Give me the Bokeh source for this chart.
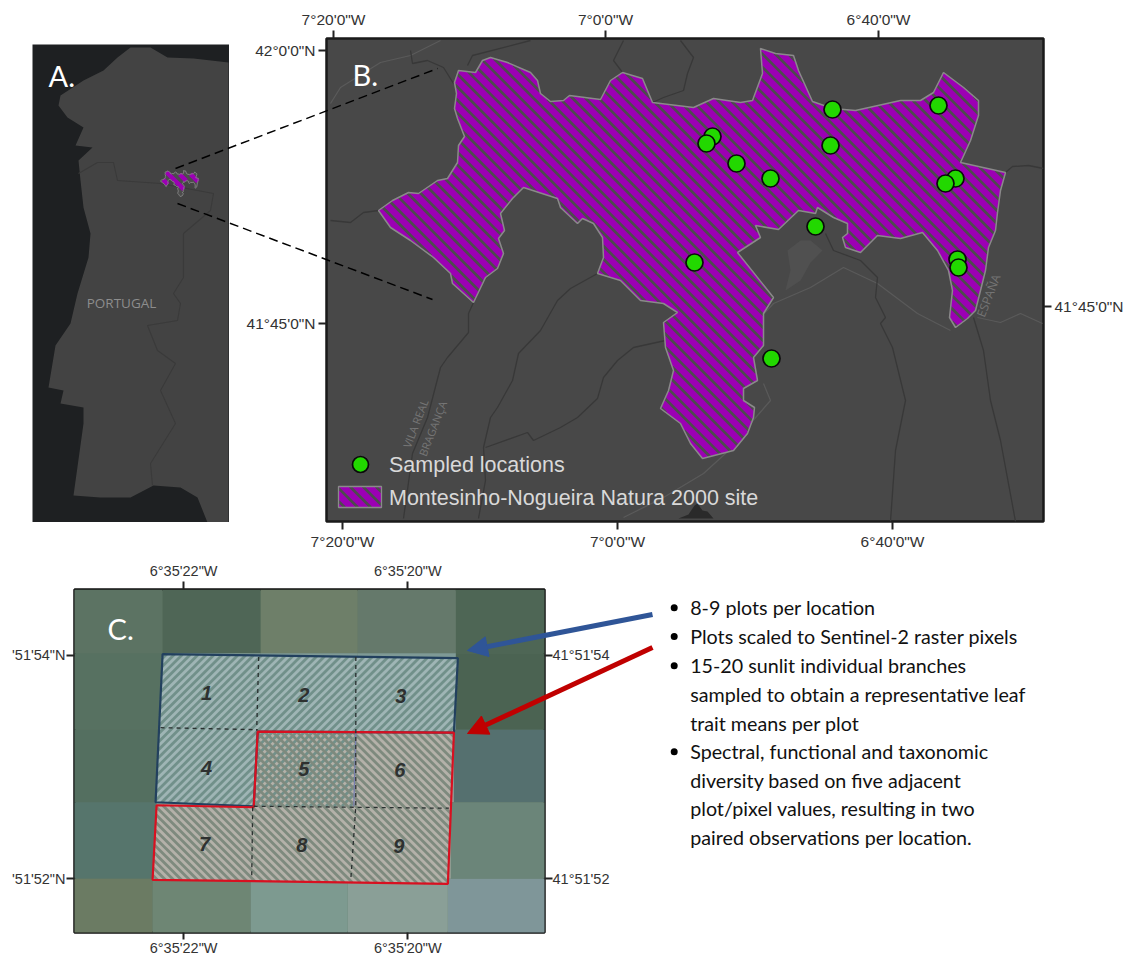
from bokeh.plotting import figure
from bokeh.models import (Range1d, LinearAxis, FixedTicker, Arrow, NormalHead, Legend, LegendItem)
from bokeh.core.properties import value
from bokeh.embed import file_html
from bokeh.resources import INLINE

# ---- map coordinates (projected map units) ----
site_x = [378,392,408,418,437,447,457,458,464,457,454,456,454,458,475,482,490,507,530,537,540,550,563,569,600,610,622,642,652,693,713,740,752,762,760,775,793,798,812,832,855,900,920,933,943,963,978,978,970,960,1005,1000,997,995,988,985,975,967,955,949,952,948,937,922,900,877,860,845,842,847,847,833,817,815,798,778,755,760,737,773,763,763,753,757,743,743,754,753,747,733,702,690,680,660,668,673,665,663,677,663,640,620,597,603,602,593,582,577,560,557,523,512,500,504,498,503,497,485,473,452,450,433,410,390]
site_y = [210,200,192,193,180,178,162,145,136,118,108,93,82,70,72,60,57,62,72,80,93,101,100,95,99,80,72,78,102,107,98,102,100,73,48,53,55,70,101,108,110,100,100,92,72,87,100,115,140,162,172,190,212,230,247,270,310,318,327,317,290,270,250,232,238,235,252,247,237,233,223,217,207,213,210,229,225,237,252,297,313,345,357,380,388,400,407,417,433,450,458,443,423,408,390,370,347,322,312,303,300,280,273,257,237,223,218,223,207,198,187,198,213,230,238,253,268,277,302,283,273,257,240,227]
loc_x = [832,938,712,706,830,736,770,955,945,815,694,957,958,771]
loc_y = [109,105,136,143,145,163,178,178,183,226,262,259,267,358]

dark_rivers_x = [[403,412,427,440,447,468,468,473],[478,485,483,490,497,512,518,540,557,570,597],[485,527,533,560,577,597,603,617,633,665],[330,350,363,378],[410,412,427,443,453],[467,472,530],[622,613,623],[680,693,687,683,663,652],[825,833,860,877,875,885,880,892,905,895,890],[1005,1012,1028,1043],[973,983,990,1000,1015]]
dark_rivers_y = [[518,453,417,367,357,332,313,302],[518,480,447,417,407,380,353,330,300,288,273],[447,432,440,427,417,398,377,360,347,340],[220,222,212,210],[50,63,60,67,83],[65,55,40],[72,60,40],[40,57,73,90,97,102],[233,250,260,277,297,317,323,347,400,450,521],[172,166,165,168],[317,350,400,440,521]]
light_rivers_x = [[330,340,380,410,440],[760,773,810,843,877,917,950],[977,1000,1020,1042],[747,703,663,623],[763,770,750]]
light_rivers_y = [[103,87,62,55,40],[317,303,287,267,283,313,330],[317,322,313,323],[433,473,497,517],[383,400,423]]
lake_x = [678,688,694,697,702,707,713]
lake_y = [518,514,505,503,510,511,518]
reservoir_x = [787,800,810,822,810,800,785,790]
reservoir_y = [250,240,240,250,262,280,290,270]

land_x = [228,193,167,150,130,117,103,83,60,58,67,83,75,92,78,80,83,90,88,77,70,55,48,63,60,83,83,73,100,130,153,180,197,207,228]
land_y = [62,58,57,47,47,57,70,80,95,105,117,127,145,147,160,180,207,233,257,293,323,345,387,390,403,407,423,495,497,497,485,487,497,522,522]
border_x = [78,97,113,117,160,197,213,210,183,183,173,180,177,147,157,175,160,175,150,152]
border_y = [173,162,162,180,183,190,193,210,233,277,293,303,320,325,350,363,390,423,463,485]
inset_x = [160 + (x - 378) * 0.0605 for x in site_x]
inset_y = [170 + (y - 48) * 0.0634 for y in site_y]
legend_box_x = [338, 381, 381, 338]
legend_box_y = [486, 486, 507, 507]
legend_point_x = [360]
legend_point_y = [464]

b_top_ticks = [333, 605, 878]
b_top_labels = ['7°20\'0"W', '7°0\'0"W', '6°40\'0"W']
b_bottom_ticks = [342, 617, 892]
b_left_ticks = [50, 323]
b_left_labels = ['42°0\'0"N', '41°45\'0"N']
b_right_ticks = [306]
b_right_labels = ['41°45\'0"N']

# panel C: raster cells, plots
cell_left = [[73,162,260,357,455],[73,162,260,357,455],[73,160,258,355,453],[73,156,253,350,450],[73,152,250,347,447]]
cell_right = [[162,260,357,455,544],[162,260,357,455,544],[160,258,355,453,544],[156,253,350,450,544],[152,250,347,447,544]]
cell_top = [589,653,730,803,880]
cell_bottom = [653,730,803,880,935]
cell_colors = [["#5c7363","#4f6656","#6e7f69","#65796b","#4e6655"],
               ["#577161","#7f9a96","#7f9a96","#7f9a96","#4b6352"],
               ["#546f60","#7f9a96","#9a9f98","#9a9f98","#55706f"],
               ["#56756c","#9aa39a","#9aa39a","#9aa39a","#6b8579"],
               ["#6b7b63","#6e8674","#7d9a90","#8a9f97","#7f9699"]]
blue_x = [162,457,453,355,353,253,155]
blue_y = [654,658,733,733,807,807,803]
blue_line_x = [155,162,457,453,257,253,155]
blue_line_y = [803,654,658,733,732,807,803]
red_x = [257,453,447,152,156,253]
red_y = [732,733,885,881,806,808]
grid_x = [[258,256],[252,251],[355,355,350],[160,257],[253,448]]
grid_y = [[657,731],[808,880],[657,807,881],[728,730],[807,809]]
plot_x = [206,303,400,206,303,399,204,301,398]
plot_y = [693,695,696,769,770,771,845,846,847]
plot_names = ["1","2","3","4","5","6","7","8","9"]
c_xticks = [183, 407]
c_xlabels = ['6°35\'22"W', '6°35\'20"W']
c_yticks = [655, 880]
c_left_labels = ['\'51\'54"N', '\'51\'52"N']
c_right_labels = ['41°51\'54', '41°51\'52']

notes = ["8-9 plots per location","Plots scaled to Sentinel-2 raster pixels","15-20 sunlit individual branches",
         "sampled to obtain a representative leaf","trait means per plot","Spectral, functional and taxonomic",
         "diversity based on five adjacent","plot/pixel values, resulting in two","paired observations per location."]
note_y = [607.3,636,665.3,694,722.7,751.3,780,808.3,836.7]
bullet_y = [607.3,636,665.3,751.3]

PURPLE = "#9c00b4"
STRIPE = "#4c4c4c"
GREEN = "#22d800"


def stripes(xs, ys, step, sign):
    """Diagonal hatch lines clipped to a polygon (Bokeh's hatch patterns do not survive the SVG backend)."""
    n = len(xs)
    u = [ys[i] - sign * xs[i] for i in range(n)]
    out_x, out_y = [], []
    c = int(min(u) // step) * step + step / 2 + 0.137
    while c < max(u):
        hits = []
        for i in range(n):
            j = (i + 1) % n
            if (u[i] > c) != (u[j] > c):
                t = (c - u[i]) / (u[j] - u[i])
                hits.append(xs[i] + t * (xs[j] - xs[i]))
        hits.sort()
        for a, b in zip(hits[0::2], hits[1::2]):
            out_x.append([a, b])
            out_y.append([c + sign * a, c + sign * b])
        c += step
    return out_x, out_y


def base(w, h, xr, yr, left, top, **kw):
    p = figure(width=w, height=h, x_range=Range1d(*xr), y_range=Range1d(*yr),
               output_backend="svg", toolbar_location=None, x_axis_type=None, y_axis_type=None, **kw)
    p.grid.visible = False
    p.styles = {"position": "absolute", "left": f"{left}px", "top": f"{top}px"}
    return p


def axis(p, side, ticks, labels, size, standoff=3, tick=8):
    a = LinearAxis(ticker=FixedTicker(ticks=ticks),
                   major_label_overrides={t: l for t, l in zip(ticks, labels)})
    a.major_tick_out = tick
    a.major_tick_in = 0
    a.minor_tick_line_color = None
    a.major_tick_line_width = 2
    a.major_tick_line_color = "#222222"
    a.axis_line_color = None
    a.major_label_standoff = standoff
    a.major_label_text_font = "Liberation Sans"
    a.major_label_text_font_size = size
    a.major_label_text_color = "#333333"
    p.add_layout(a, side)


# ---- Panel A ----
pA = base(197, 478, (32, 229), (522, 44), 32, 44, min_border=0)
pA.background_fill_color = "#1e2022"
pA.outline_line_color = None
pA.patch(land_x, land_y, fill_color="#434343", line_color=None)
pA.line(border_x, border_y, line_color="#3a3a3a", line_width=1.1)
pA.patch(inset_x, inset_y, fill_color=STRIPE, line_color=None)
sx, sy = stripes(inset_x, inset_y, 11, 1)
pA.multi_line(sx, sy, line_color=PURPLE, line_width=4.5)
pA.patch(inset_x, inset_y, fill_color=None, line_color="#8c8c8c", line_width=0.8)
pA.text([48], [75], text=["A."], text_color="white", text_font=value("Lato"),
        text_font_size="29px", text_baseline="middle")
pA.text([121], [302], text=["PORTUGAL"], text_color="#8d8d8d", text_font=value("Open Sans"),
        text_font_size="13.5px", text_align="center", text_baseline="middle")

# ---- Panel B ----
pB = base(894, 558, (326, 1043), (521, 38), 232, 0, min_border_left=94, min_border_right=83, min_border_top=38, min_border_bottom=37)
pB.background_fill_color = "#484848"
pB.border_fill_color = None
pB.outline_line_color = "#1a1a1a"
pB.outline_line_width = 2.5
axis(pB, "above", b_top_ticks, b_top_labels, "15.5px")
axis(pB, "below", b_bottom_ticks, b_top_labels, "15.5px")
axis(pB, "left", b_left_ticks, b_left_labels, "15.5px")
axis(pB, "right", b_right_ticks, b_right_labels, "15.5px")
pB.multi_line(light_rivers_x, light_rivers_y, line_color="#5a5a5a", line_width=1.2)
pB.patch(reservoir_x, reservoir_y, fill_color="#505050", line_color=None)
pB.multi_line(dark_rivers_x, dark_rivers_y, line_color="#383838", line_width=1.3)
pB.patch(lake_x, lake_y, fill_color="#2a2a2a", line_color=None)
pB.patch(site_x, site_y, fill_color=PURPLE, line_color=None)
sx, sy = stripes(site_x, site_y, 13, 1)
pB.multi_line(sx, sy, line_color=STRIPE, line_width=2.7)
pB.patch(site_x, site_y, fill_color=None, line_color="#8a8a8a", line_width=1.5)
pB.scatter(loc_x, loc_y, size=17, fill_color=GREEN, line_color="#0a0a0a", line_width=1.7)
pB.text([352], [74], text=["B."], text_color="white", text_font=value("Lato"),
        text_font_size="29px", text_baseline="middle")
for tx, ty, ts, fs in [(988, 295, "ESPAÑA", "12px"), (415, 423, "VILA REAL", "11px"), (432, 428, "BRAGANÇA", "11px")]:
    pB.text([tx], [ty], text=[ts], text_color="#757575", text_font=value("Open Sans"), text_font_size=fs,
            angle=1.2, text_align="center", text_baseline="middle")
# legend swatches (hatch is hand-clipped), with the legend supplying the real labels
pB.patch(legend_box_x, legend_box_y, fill_color=PURPLE, line_color=None)
sx, sy = stripes(legend_box_x, legend_box_y, 13, 1)
pB.multi_line(sx, sy, line_color=STRIPE, line_width=2.7)
pB.patch(legend_box_x, legend_box_y, fill_color=None, line_color="#8a8a8a", line_width=1.3)
pB.scatter(legend_point_x, legend_point_y, size=16, fill_color=GREEN, line_color="#0a0a0a", line_width=1.7)
r_leg_pts = pB.scatter([], [], size=1, fill_alpha=0, line_alpha=0)
r_leg_site = pB.patch([], [], fill_alpha=0, line_alpha=0)
leg = Legend(items=[LegendItem(label="Sampled locations", renderers=[r_leg_pts]),
                    LegendItem(label="Montesinho-Nogueira Natura 2000 site", renderers=[r_leg_site])],
             location=(12, 10.5), background_fill_alpha=0, border_line_color=None, glyph_width=43, glyph_height=21,
             label_text_color="#d9d9d9", label_text_font="Liberation Sans", label_text_font_size="21.5px",
             spacing=8, label_standoff=8, padding=0, margin=0)
pB.add_layout(leg)

# ---- Panel C ----
pC = base(620, 400, (74, 543.5), (934, 589), 0, 558, min_border_left=74, min_border_right=76, min_border_top=31, min_border_bottom=24)
pC.background_fill_color = "#5c7363"
pC.border_fill_color = None
pC.outline_line_color = "#111111"
pC.outline_line_width = 2.5
axis(pC, "above", c_xticks, c_xlabels, "14.5px")
axis(pC, "below", c_xticks, c_xlabels, "14.5px", standoff=0, tick=7)
axis(pC, "left", c_yticks, c_left_labels, "14.5px", standoff=1)
axis(pC, "right", c_yticks, c_right_labels, "14.5px", standoff=0)
for row in range(5):
    pC.quad(left=cell_left[row], right=cell_right[row], top=[cell_top[row]] * 5, bottom=[cell_bottom[row]] * 5,
            fill_color=cell_colors[row], line_color=None)
pC.patch(blue_x, blue_y, fill_color="#9fb5b5", line_color=None)
pC.patch(red_x, red_y, fill_color="#b4b1a9", line_color=None)
sx, sy = stripes(blue_x, blue_y, 8, -1)
pC.multi_line(sx, sy, line_color="#71908a", line_width=2.8)
sx, sy = stripes(red_x, red_y, 8, 1)
pC.multi_line(sx, sy, line_color="#7e8a7e", line_width=2.8)
pC.line([355, 353], [733, 807], line_color="#7a7fb0", line_width=1.2)
pC.patch(blue_line_x, blue_line_y, fill_color=None, line_color="#22405e", line_width=2.2)
pC.patch(red_x, red_y, fill_color=None, line_color="#d81020", line_width=2.2)
pC.multi_line(grid_x, grid_y, line_color="#2a3030", line_width=1.3, line_dash="4 4")
pC.text(plot_x, plot_y, text=plot_names, text_color="#2e3130", text_font=value("Liberation Sans"),
        text_font_style="bold italic", text_font_size="20px", text_align="center", text_baseline="middle")
pC.text([107], [628], text=["C."], text_color="white", text_font=value("Lato"),
        text_font_size="29px", text_baseline="middle")

# ---- Overlay: zoom lines, arrows, notes ----
pO = base(1126, 958, (0, 1126), (958, 0), 0, 0, min_border=0)
pO.background_fill_color = None
pO.border_fill_color = None
pO.outline_line_color = None
pO.multi_line([[175, 437], [177, 432]], [[168, 68], [203, 299]], line_color="#000000", line_width=1.5, line_dash="9 5")
pO.add_layout(Arrow(end=NormalHead(size=20, fill_color="#2f5597", line_color="#2f5597"), x_start=652, y_start=614,
                    x_end=467, y_end=650, line_color="#2f5597", line_width=5))
pO.add_layout(Arrow(end=NormalHead(size=20, fill_color="#c00000", line_color="#c00000"), x_start=652, y_start=647,
                    x_end=467, y_end=733, line_color="#c00000", line_width=5))
pO.scatter([673.7] * 4, bullet_y, size=7, fill_color="#000000", line_color=None)
pO.text([689.7] * 9, note_y, text=notes, text_color="#111111", text_font=value("Lato"),
        text_font_size="19.7px", text_baseline="middle")

open("out.html", "w").write(file_html([pA, pB, pC, pO], INLINE))
